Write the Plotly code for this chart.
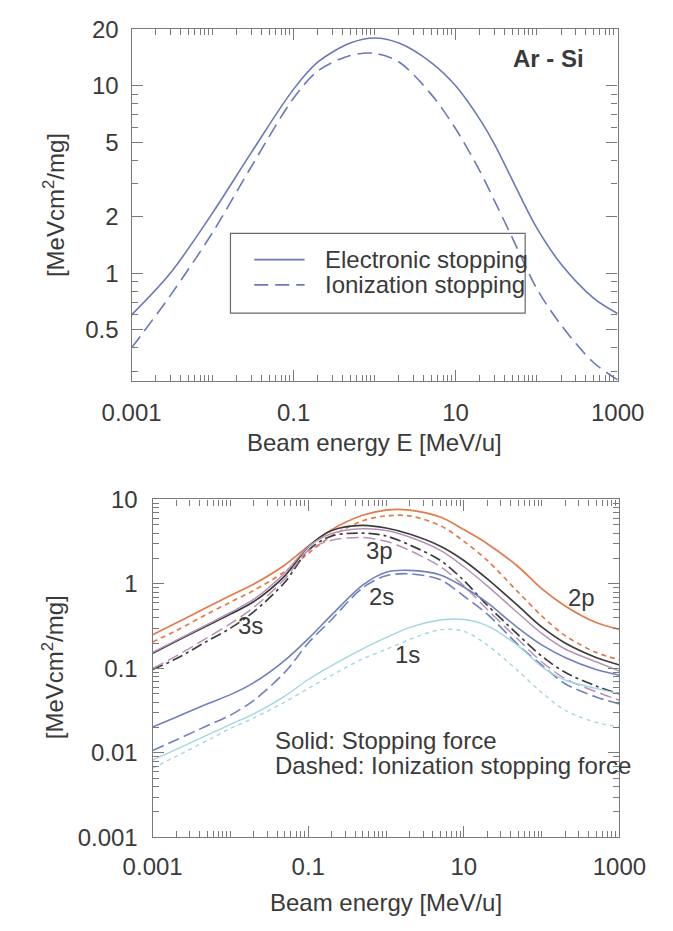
import plotly.graph_objects as go
import math

# ---------------- data ----------------
E_top = [0.001, 0.003, 0.01, 0.03, 0.1, 0.2, 0.5, 1, 2, 5, 10, 20, 30, 50, 100, 200, 500, 1000]
electronic = [0.6, 1.0, 2.1, 4.4, 9.6, 13.4, 16.9, 18.0, 16.9, 13.3, 10.0, 6.6, 4.9, 3.15, 1.75, 1.12, 0.74, 0.61]
ionization = [0.4, 0.76, 1.65, 3.7, 8.6, 12.0, 14.5, 14.9, 13.4, 9.0, 5.9, 3.5, 2.45, 1.55, 0.83, 0.53, 0.335, 0.27]

E_bot = [0.001, 0.002, 0.005, 0.01, 0.02, 0.05, 0.1, 0.2, 0.5, 1, 2, 5, 10, 20, 50, 100, 200, 500, 1000]
s2p_solid = [0.25, 0.345, 0.53, 0.73, 1.0, 1.68, 2.8, 4.4, 6.5, 7.5, 7.5, 6.2, 4.4, 3.0, 1.6, 0.88, 0.55, 0.35, 0.29]
s2p_dash = [0.206, 0.28, 0.44, 0.61, 0.84, 1.4, 2.3, 3.7, 5.6, 6.4, 6.4, 4.9, 3.2, 1.9, 0.8, 0.42, 0.245, 0.155, 0.127]
s3s_solid = [0.151, 0.21, 0.32, 0.44, 0.62, 1.25, 2.75, 4.3, 4.95, 4.6, 3.9, 2.8, 1.9, 1.15, 0.55, 0.31, 0.2, 0.135, 0.11]
s3s_dash = [0.097, 0.13, 0.21, 0.30, 0.47, 1.05, 2.5, 3.7, 4.0, 3.7, 2.9, 1.9, 1.1, 0.56, 0.25, 0.14, 0.09, 0.062, 0.05]
s3p_solid = [0.155, 0.215, 0.33, 0.46, 0.66, 1.35, 2.75, 3.95, 4.5, 4.3, 3.6, 2.5, 1.6, 0.95, 0.45, 0.26, 0.17, 0.12, 0.093]
s3p_dash = [0.10, 0.14, 0.23, 0.34, 0.53, 1.15, 2.5, 3.3, 3.55, 3.2, 2.5, 1.6, 0.95, 0.5, 0.22, 0.12, 0.076, 0.053, 0.042]
s2s_solid = [0.0203, 0.0265, 0.038, 0.049, 0.068, 0.125, 0.225, 0.43, 0.97, 1.38, 1.45, 1.28, 0.92, 0.6, 0.3, 0.19, 0.135, 0.097, 0.083]
s2s_dash = [0.0107, 0.0142, 0.021, 0.028, 0.042, 0.09, 0.2, 0.38, 0.9, 1.25, 1.32, 1.12, 0.72, 0.44, 0.19, 0.11, 0.066, 0.046, 0.038]
s1s_solid = [0.0082, 0.011, 0.0162, 0.0218, 0.029, 0.047, 0.074, 0.108, 0.171, 0.232, 0.305, 0.375, 0.38, 0.32, 0.185, 0.105, 0.073, 0.058, 0.05]
s1s_dash = [0.0066, 0.0091, 0.014, 0.0195, 0.026, 0.04, 0.058, 0.083, 0.13, 0.168, 0.22, 0.288, 0.275, 0.19, 0.093, 0.052, 0.032, 0.023, 0.0203]

x_tickvals = [0.001, 0.1, 10, 1000]
x_ticktext = ["0.001", "0.1", "10", "1000"]
top_y_tickvals = [0.5, 1, 2, 5, 10, 20]
top_y_ticktext = ["0.5", "1", "2", "5", "10", "20"]
bot_y_tickvals = [0.001, 0.01, 0.1, 1, 10]
bot_y_ticktext = ["0.001", "0.01", "0.1", "1", "10"]

# ---------------- layout helpers ----------------
W, H = 673, 931
def px(x):
    return x / W
def py(y):
    return 1 - y / H

FONT = "Liberation Sans, Arial, Helvetica, sans-serif"
TXT = "#3a3a3a"
AX = "#7a7a7a"

def minor_vals(lo, hi):
    vals = []
    for d in range(lo, hi):
        for m in range(1, 10):
            vals.append(m * 10 ** d)
    vals.append(10 ** hi)
    return vals

def axis(rng, dom, tv, tt, anchor, minors, standoff):
    return dict(type="log", range=rng, domain=dom, anchor=anchor,
                tickmode="array", tickvals=tv, ticktext=tt,
                ticks="inside", ticklen=11, tickwidth=1, tickcolor=AX,
                showline=True, linecolor=AX, linewidth=1.3, mirror="allticks",
                showgrid=False, zeroline=False,
                tickfont=dict(family=FONT, size=24, color=TXT),
                ticklabelstandoff=standoff,
                minor=dict(tickmode="array", tickvals=minors, ticks="inside",
                           ticklen=6, tickwidth=1, tickcolor=AX, showgrid=False))

fig = go.Figure()

TOPC = "#6b79b6"
fig.add_trace(go.Scatter(x=E_top, y=electronic, mode="lines", line=dict(color=TOPC, width=1.6, shape="spline", smoothing=0.9),
                         xaxis="x", yaxis="y", name="Electronic stopping", showlegend=False))
fig.add_trace(go.Scatter(x=E_top, y=ionization, mode="lines", line=dict(color=TOPC, width=1.6, dash="14px,7px", shape="spline", smoothing=0.9),
                         xaxis="x", yaxis="y", name="Ionization stopping", showlegend=False))

series = [
    ("2p", s2p_solid, s2p_dash, "#e27a4b", "5px,4px", 1.7),
    ("3s", s3s_solid, s3s_dash, "#3c3c3c", "11px,4px,3px,4px", 1.7),
    ("3p", s3p_solid, s3p_dash, "#b792b8", "12px,5px", 1.5),
    ("2s", s2s_solid, s2s_dash, "#7080be", "12px,5px", 1.6),
    ("1s", s1s_solid, s1s_dash, "#a3d6e2", "4px,4px", 1.4),
]
for name, sol, das, col, dash, w in series:
    fig.add_trace(go.Scatter(x=E_bot, y=sol, mode="lines", line=dict(color=col, width=w, shape="spline", smoothing=0.9),
                             xaxis="x2", yaxis="y2", name=name + " stopping", showlegend=False))
    fig.add_trace(go.Scatter(x=E_bot, y=das, mode="lines", line=dict(color=col, width=w, dash=dash, shape="spline", smoothing=0.9),
                             xaxis="x2", yaxis="y2", name=name + " ionization", showlegend=False))

top_dom_x = [px(111), px(642)]
top_dom_y = [py(378), py(15)]
bot_dom_x = [px(134), px(644)]
bot_dom_y = [py(848), py(500)]

fig.update_layout(
    width=W, height=H, margin=dict(l=0, r=0, t=0, b=0),
    paper_bgcolor="white", plot_bgcolor="white",
    font=dict(family=FONT, color=TXT),
    xaxis=axis([-3, 3], top_dom_x, x_tickvals, x_ticktext, "y", minor_vals(-3, 3), 10),
    yaxis=axis([-0.575, math.log10(20.2)], top_dom_y, top_y_tickvals, top_y_ticktext, "x",
               minor_vals(-1, 2), 7),
    xaxis2=axis([-3, 3], bot_dom_x, x_tickvals, x_ticktext, "y2", minor_vals(-3, 3), 8),
    yaxis2=axis([-3, 1], bot_dom_y, bot_y_tickvals, bot_y_ticktext, "x2", minor_vals(-3, 1), 9),
)

ann = []
def text(x, y, s, size=24, anchor="center", bold=False, angle=0):
    ann.append(dict(x=px(x), y=py(y), xref="paper", yref="paper", text=("<b>%s</b>" % s if bold else s),
                    showarrow=False, xanchor=anchor, yanchor="middle", textangle=angle,
                    font=dict(family=FONT, size=size, color=TXT)))

text(376, 441, "Beam energy E [MeV/u]")
text(26, 197, "[MeVcm<sup>2</sup>/mg]", angle=-90)
text(567, 46, "Ar - Si", bold=True)
text(320, 253, "Electronic stopping", anchor="left")
text(320, 279, "Ionization stopping", anchor="left")

text(389, 915, "Beam energy [MeV/u]")
text(26, 673, "[MeVcm<sup>2</sup>/mg]", angle=-90)
text(266, 748, "Solid: Stopping force", anchor="left")
text(266, 774, "Dashed: Ionization stopping force", anchor="left")
text(241, 630, "3s")
text(382, 553, "3p")
text(384, 600, "2s")
text(602, 601, "2p")
text(412, 660, "1s")
fig.update_layout(annotations=ann)

shapes = [
    dict(type="rect", xref="paper", yref="paper", x0=px(219), x1=px(541), y0=py(308), y1=py(226),
         line=dict(color="#6a6a6a", width=1.2), fillcolor="rgba(0,0,0,0)"),
    dict(type="line", xref="paper", yref="paper", x0=px(245), x1=px(300), y0=py(253), y1=py(253),
         line=dict(color=TOPC, width=1.6)),
    dict(type="line", xref="paper", yref="paper", x0=px(245), x1=px(300), y0=py(279), y1=py(279),
         line=dict(color=TOPC, width=1.6, dash="14px,7px")),
]
fig.update_layout(shapes=shapes)

fig.write_html("out.html")
